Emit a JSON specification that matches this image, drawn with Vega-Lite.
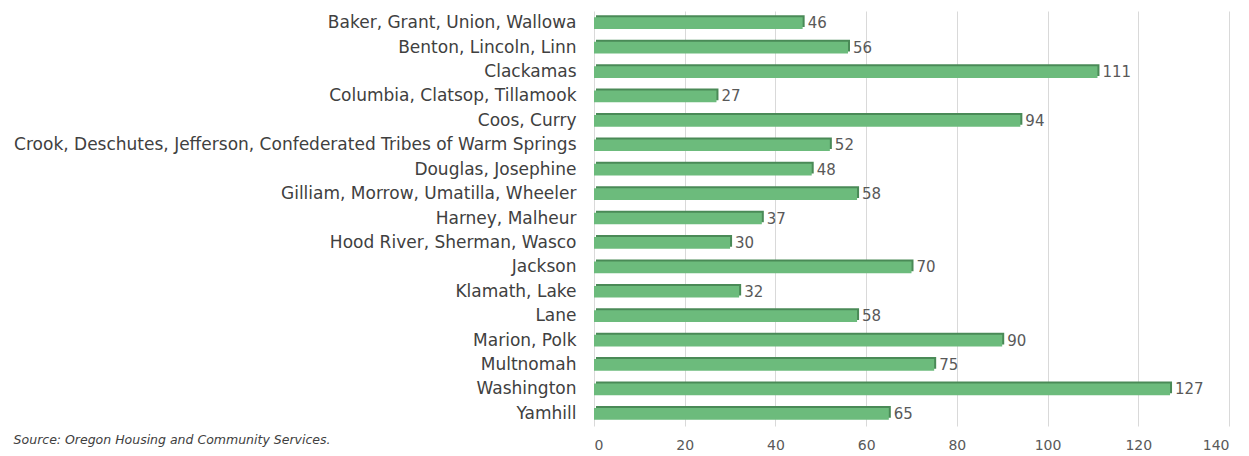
{
  "$schema": "https://vega.github.io/schema/vega-lite/v6.json",
  "autosize": "none",
  "width": 635,
  "height": 415,
  "padding": {"left": 594, "top": 11, "right": 20, "bottom": 30},
  "background": "white",
  "config": {"view": {"stroke": null}, "font": "DejaVu Sans"},
  "title": {
    "text": "Source: Oregon Housing and Community Services.",
    "orient": "bottom",
    "anchor": "start",
    "frame": "bounds",
    "font": "DejaVu Sans",
    "fontSize": 12.5,
    "fontStyle": "italic",
    "fontWeight": "normal",
    "color": "#404040",
    "offset": -18,
    "dx": 0
  },
  "data": {
    "values": [
      {"region": "Baker, Grant, Union, Wallowa", "value": 46},
      {"region": "Benton, Lincoln, Linn", "value": 56},
      {"region": "Clackamas", "value": 111},
      {"region": "Columbia, Clatsop, Tillamook", "value": 27},
      {"region": "Coos, Curry", "value": 94},
      {"region": "Crook, Deschutes, Jefferson, Confederated Tribes of Warm Springs", "value": 52},
      {"region": "Douglas, Josephine", "value": 48},
      {"region": "Gilliam, Morrow, Umatilla, Wheeler", "value": 58},
      {"region": "Harney, Malheur", "value": 37},
      {"region": "Hood River, Sherman, Wasco", "value": 30},
      {"region": "Jackson", "value": 70},
      {"region": "Klamath, Lake", "value": 32},
      {"region": "Lane", "value": 58},
      {"region": "Marion, Polk", "value": 90},
      {"region": "Multnomah", "value": 75},
      {"region": "Washington", "value": 127},
      {"region": "Yamhill", "value": 65}
    ]
  },
  "encoding": {
    "y": {
      "field": "region",
      "type": "nominal",
      "sort": null,
      "scale": {"paddingInner": 0.52, "paddingOuter": 0.26},
      "axis": {
        "title": null,
        "domain": false,
        "ticks": false,
        "labelFontSize": 17,
        "labelColor": "#404040",
        "labelPadding": 18,
        "labelLimit": 700,
        "labelFont": "DejaVu Sans"
      }
    },
    "x": {
      "field": "value",
      "type": "quantitative",
      "scale": {"domain": [0, 140]},
      "axis": {
        "title": null,
        "domain": false,
        "ticks": false,
        "values": [0, 20, 40, 60, 80, 100, 120, 140],
        "labelFontSize": 14,
        "labelColor": "#595959",
        "labelPadding": 12,
        "gridColor": "#d9d9d9",
        "labelFont": "DejaVu Sans"
      }
    }
  },
  "layer": [
    {"mark": {"type": "bar", "color": "#4a8a57", "xOffset": 2, "yOffset": -2}},
    {"mark": {"type": "bar", "color": "#6cbb7c"}},
    {
      "mark": {"type": "text", "align": "left", "dx": 5, "fontSize": 15, "color": "#595959", "font": "DejaVu Sans"},
      "encoding": {"text": {"field": "value", "type": "quantitative"}}
    }
  ]
}
